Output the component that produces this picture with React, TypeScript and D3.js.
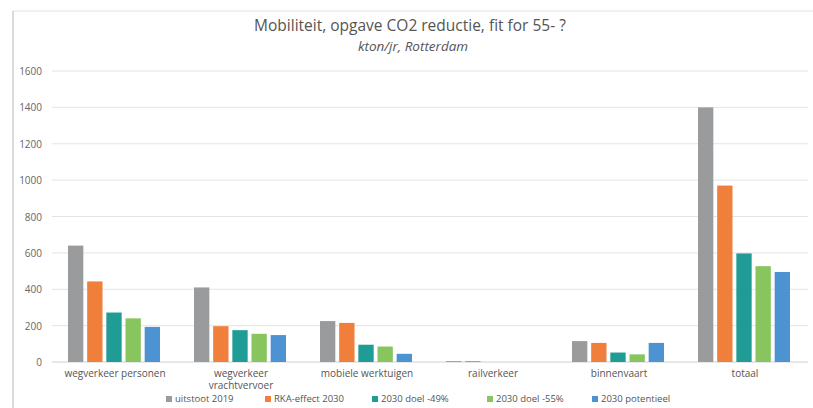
import { useEffect, useRef } from 'react';
import * as d3 from 'd3';

const categories = [
  'wegverkeer personen',
  'wegverkeer vrachtvervoer',
  'mobiele werktuigen',
  'railverkeer',
  'binnenvaart',
  'totaal',
];
const seriesNames = ['uitstoot 2019', 'RKA-effect 2030', '2030 doel -49%', '2030 doel -55%', '2030 potentieel'];
const uitstoot2019 = [640, 410, 225, 5, 115, 1400];
const rkaEffect2030 = [443, 197, 215, 5, 105, 970];
const doel49 = [272, 175, 95, 0, 52, 597];
const doel55 = [240, 155, 85, 0, 42, 527];
const potentieel = [193, 148, 45, 0, 105, 495];
const yTicks = [0, 200, 400, 600, 800, 1000, 1200, 1400, 1600];
const colors = ['#999b9d', '#f07f3c', '#209c96', '#88c55f', '#4d93d2'];

const seriesValues = [uitstoot2019, rkaEffect2030, doel49, doel55, potentieel];

export default function App() {
  const svgRef = useRef<SVGSVGElement>(null);

  useEffect(() => {
    if (!svgRef.current) return;
    const svg = d3.select(svgRef.current);
    svg.selectAll('*').remove();

    const width = 813;
    const height = 408;
    const margin = { top: 71, right: 5, bottom: 46, left: 52 };
    const font = "'Open Sans', sans-serif";

    // frame
    svg.append('line')
      .attr('x1', 13).attr('y1', 11).attr('x2', width).attr('y2', 11)
      .attr('stroke', '#e2e2e2').attr('stroke-width', 1);
    svg.append('line')
      .attr('x1', 13).attr('y1', 11).attr('x2', 13).attr('y2', height)
      .attr('stroke', '#cfcfcf').attr('stroke-width', 1.5);

    const x0 = d3.scaleBand().domain(categories).range([margin.left, 808]);
    const x1 = d3.scaleBand().domain(seriesNames).range([16, x0.bandwidth() - 18]).paddingInner(0.2);
    const y = d3.scaleLinear().domain([0, 1600]).range([height - margin.bottom, margin.top]);

    // gridlines
    svg.append('g')
      .selectAll('line')
      .data(yTicks)
      .join('line')
      .attr('x1', margin.left).attr('x2', 808)
      .attr('y1', d => y(d)).attr('y2', d => y(d))
      .attr('stroke', d => (d === 0 ? '#d0d0d0' : '#e4e4e4'))
      .attr('stroke-width', 1);

    svg.append('g')
      .selectAll('text')
      .data(yTicks)
      .join('text')
      .attr('x', 42).attr('y', d => y(d) + 4)
      .attr('text-anchor', 'end')
      .attr('font-family', font).attr('font-size', 10)
      .attr('fill', '#666')
      .text(d => d);

    // bars
    const groups = svg.append('g')
      .selectAll('g')
      .data(categories)
      .join('g')
      .attr('transform', d => `translate(${x0(d)},0)`);

    groups.selectAll('rect')
      .data((_, i) => seriesNames.map((s, j) => ({ s, v: seriesValues[j][i], j })))
      .join('rect')
      .attr('x', d => x1(d.s)!)
      .attr('width', x1.bandwidth())
      .attr('y', d => y(d.v))
      .attr('height', d => y(0) - y(d.v))
      .attr('fill', d => colors[d.j]);

    // category labels (one text per line)
    const labelLines: Record<string, string[]> = {
      'wegverkeer vrachtvervoer': ['wegverkeer', 'vrachtvervoer'],
    };
    groups.each(function (d) {
      const lines = labelLines[d] ?? [d];
      lines.forEach((l, i) => {
        d3.select(this).append('text')
          .attr('x', x0.bandwidth() / 2)
          .attr('y', 376.5 + i * 12.5)
          .attr('text-anchor', 'middle')
          .attr('font-family', font).attr('font-size', 10)
          .attr('fill', '#555')
          .text(l);
      });
    });

    // title
    svg.append('text')
      .attr('x', 410).attr('y', 31)
      .attr('text-anchor', 'middle')
      .attr('font-family', font).attr('font-size', 15.5)
      .attr('fill', '#555')
      .text('Mobiliteit, opgave CO2 reductie, fit for 55- ?');
    svg.append('text')
      .attr('x', 413).attr('y', 51)
      .attr('text-anchor', 'middle')
      .attr('font-family', font).attr('font-size', 13.5).attr('font-style', 'italic')
      .attr('fill', '#555')
      .text('kton/jr, Rotterdam');

    // legend
    const legendX = [166, 265, 372, 487, 592];
    const legend = svg.append('g')
      .selectAll('g')
      .data(seriesNames)
      .join('g')
      .attr('transform', (_, i) => `translate(${legendX[i]},402)`);
    legend.append('rect')
      .attr('x', 0).attr('y', -6).attr('width', 6).attr('height', 6)
      .attr('fill', (_, i) => colors[i]);
    legend.append('text')
      .attr('x', 9).attr('y', 0)
      .attr('font-family', font).attr('font-size', 9.5)
      .attr('fill', '#555')
      .text(d => d);
  }, []);

  return <svg ref={svgRef} width={813} height={408} style={{ display: 'block', position: 'absolute', left: 0, top: 0, background: '#fff' }} />;
}
